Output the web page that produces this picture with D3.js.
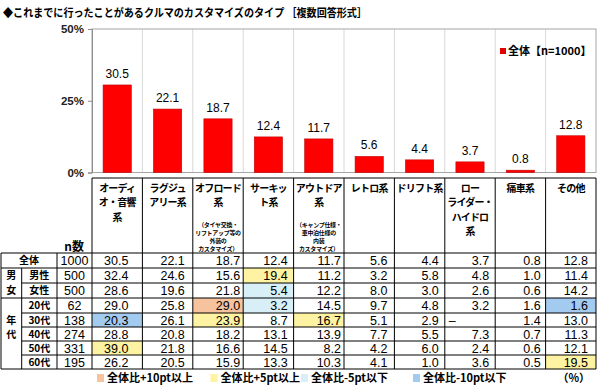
<!DOCTYPE html>
<html>
<head>
<meta charset="utf-8">
<script src="https://cdn.jsdelivr.net/npm/d3@7"></script>
<style>
  body { margin: 0; background: #fff; }
  svg { display: block; }
</style>
</head>
<body>
<div id="chart"></div>
<script>
// Data
const headerLines = [
  ["オーディ", "オ・音響", "系"],
  ["ラグジュ", "アリー系"],
  ["オフロード", "系"],
  ["サーキッ", "ト系"],
  ["アウトドア", "系"],
  ["レトロ系"],
  ["ドリフト系"],
  ["ロー", "ライダー・", "ハイドロ", "系"],
  ["痛車系"],
  ["その他"]
];
const headerNotes = [
  null, null,
  ["（タイヤ交換・", "リフトアップ等の", "外装の", "カスタマイズ）"],
  null,
  ["（キャンプ仕様・", "車中泊仕様の", "内装", "カスタマイズ）"],
  null, null, null, null, null
];
const total = [30.5, 22.1, 18.7, 12.4, 11.7, 5.6, 4.4, 3.7, 0.8, 12.8];
const totalN = 1000;
const rowLabels = ["男性", "女性", "20代", "30代", "40代", "50代", "60代"];
const rowN = [500, 500, 62, 138, 274, 331, 195];
const rowValues = [
  [32.4, 24.6, 15.6, 19.4, 11.2, 3.2, 5.8, 4.8, 1.0, 11.4],
  [28.6, 19.6, 21.8, 5.4, 12.2, 8.0, 3.0, 2.6, 0.6, 14.2],
  [29.0, 25.8, 29.0, 3.2, 14.5, 9.7, 4.8, 3.2, 1.6, 1.6],
  [20.3, 26.1, 23.9, 8.7, 16.7, 5.1, 2.9, null, 1.4, 13.0],
  [28.8, 20.8, 18.2, 13.1, 13.9, 7.7, 5.5, 7.3, 0.7, 11.3],
  [39.0, 21.8, 16.6, 14.5, 8.2, 4.2, 6.0, 2.4, 0.6, 12.1],
  [26.2, 20.5, 15.9, 13.3, 10.3, 4.1, 1.0, 3.6, 0.5, 19.5]
];
const yTicks = [0, 25, 50];
const legendItems = ["全体比+10pt以上", "全体比+5pt以上", "全体比-5pt以下", "全体比-10pt以下"];
const legendColors = ["#f7c39f", "#fdf3a2", "#d9eff7", "#a3caef"];

const width = 600, height = 389;
const jp = "'Noto Sans CJK JP', sans-serif";
const num = "'Liberation Sans', Arial, sans-serif";

const svg = d3.select("#chart").append("svg")
  .attr("width", width)
  .attr("height", height);

// Title
svg.append("text")
  .attr("x", 3).attr("y", 17)
  .attr("font-family", jp).attr("font-weight", 700).attr("font-size", 11.5)
  .attr("textLength", 364).attr("lengthAdjust", "spacingAndGlyphs")
  .text("◆これまでに行ったことがあるクルマのカスタマイズのタイプ ［複数回答形式］");

// Scales
const idx = d3.range(total.length);
const x = d3.scaleBand().domain(idx).range([92, 596]);
const y = d3.scaleLinear().domain([0, 50]).range([172.5, 29]);
const barW = x.bandwidth() * 0.56;

// Plot frame and grid
svg.append("g")
  .selectAll("line")
  .data(idx.slice(1))
  .join("line")
    .attr("x1", d => x(d)).attr("x2", d => x(d))
    .attr("y1", y(50)).attr("y2", y(0))
    .attr("stroke", "#d8d8d8");

svg.append("rect")
  .attr("x", 92).attr("y", y(50))
  .attr("width", 596 - 92).attr("height", y(0) - y(50))
  .attr("fill", "none").attr("stroke", "#a6a6a6");

// Y axis
const yAxis = svg.append("g")
  .attr("transform", "translate(92,0)")
  .call(d3.axisLeft(y).tickValues(yTicks).tickSize(4).tickFormat(d => d + "%"));
yAxis.select(".domain").attr("stroke", "#8c8c8c");
yAxis.selectAll(".tick line").attr("stroke", "#8c8c8c");
yAxis.selectAll(".tick text")
  .attr("x", -8)
  .attr("font-family", num).attr("font-weight", 700).attr("font-size", 11.5)
  .attr("fill", "#222");

// Bars
svg.append("g")
  .selectAll("rect")
  .data(total)
  .join("rect")
    .attr("x", (d, i) => x(i) + (x.bandwidth() - barW) / 2)
    .attr("y", d => y(d))
    .attr("width", barW)
    .attr("height", d => y(0) - y(d))
    .attr("fill", "#ff0000")
    .attr("stroke", "#c00000").attr("stroke-width", 0.6);

svg.append("g")
  .selectAll("text")
  .data(total)
  .join("text")
    .attr("x", (d, i) => x(i) + x.bandwidth() / 2)
    .attr("y", d => y(d) - 7)
    .attr("text-anchor", "middle")
    .attr("font-family", num).attr("font-size", 12)
    .text(d => d.toFixed(1));

// Legend (top right)
svg.append("rect").attr("x", 500).attr("y", 48).attr("width", 6).attr("height", 6).attr("fill", "#e00000");
svg.append("text")
  .attr("x", 508).attr("y", 55)
  .attr("font-family", jp).attr("font-weight", 700).attr("font-size", 11)
  .text(`全体【n=${totalN}】`);

// ---- Table ----
const tTop = 178, hBottom = 253;
const rowH = [15, 15, 15, 15, 14, 14, 14, 14];
const rowY = [hBottom];
rowH.forEach((h, i) => rowY.push(rowY[i] + h));
const tBottom = rowY[rowY.length - 1];
const colG = 1, colL = 21.7, colN = 57, colD = 92, colR = 596;
const padRight = [14, 8, 3, 6, 3, 7, 6, 6, 5, 8];

function cellColor(v, t) {
  if (v == null) return null;
  const d = Math.round((v - t) * 10) / 10;
  if (d >= 10) return legendColors[0];
  if (d >= 5) return legendColors[1];
  if (d <= -10) return legendColors[3];
  if (d <= -5) return legendColors[2];
  return null;
}

const table = svg.append("g");
const allRows = [total].concat(rowValues);

// highlighted cells
allRows.forEach((vals, r) => {
  vals.forEach((v, c) => {
    const col = cellColor(v, total[c]);
    if (r > 0 && col) {
      table.append("rect")
        .attr("x", x(c)).attr("y", rowY[r])
        .attr("width", x.bandwidth()).attr("height", rowH[r])
        .attr("fill", col);
    }
  });
});

// header column labels
headerLines.forEach((lines, c) => {
  const cx = x(c) + x.bandwidth() / 2;
  lines.forEach((s, k) => {
    table.append("text")
      .attr("x", cx).attr("y", 188.5 + k * 14.2)
      .attr("dy", "0.36em")
      .attr("text-anchor", "middle")
      .attr("font-family", jp).attr("font-weight", 700).attr("font-size", 10)
      .attr("letter-spacing", -0.8)
      .text(s);
  });
  if (headerNotes[c]) {
    headerNotes[c].forEach((s, k) => {
      table.append("text")
        .attr("x", cx).attr("y", 225 + k * 8)
        .attr("dy", "0.36em")
        .attr("text-anchor", "middle")
        .attr("font-family", jp).attr("font-weight", 700).attr("font-size", 6)
        .attr("letter-spacing", -0.3)
        .text(s);
    });
  }
});
table.append("text")
  .attr("x", 84).attr("y", 251)
  .attr("text-anchor", "end")
  .attr("font-family", jp).attr("font-weight", 700).attr("font-size", 12)
  .text("n数");

// values
const rowCY = r => rowY[r] + rowH[r] / 2;
allRows.forEach((vals, r) => {
  vals.forEach((v, c) => {
    table.append("text")
      .attr("x", v == null ? x(c) + 4 : x(c) + x.bandwidth() - padRight[c])
      .attr("y", rowCY(r))
      .attr("dy", "0.36em")
      .attr("text-anchor", v == null ? "start" : "end")
      .attr("font-family", num).attr("font-size", 12.5)
      .text(v == null ? "–" : v.toFixed(1));
  });
});

// n column
[totalN].concat(rowN).forEach((n, r) => {
  table.append("text")
    .attr("x", (colN + colD) / 2).attr("y", rowCY(r))
    .attr("dy", "0.36em")
    .attr("text-anchor", "middle")
    .attr("font-family", num).attr("font-size", 12.5)
    .text(n);
});

// row labels
const jpLabel = (tx, ty, s) => table.append("text")
  .attr("x", tx).attr("y", ty).attr("dy", "0.36em")
  .attr("text-anchor", "middle")
  .attr("font-family", jp).attr("font-weight", 700).attr("font-size", 10)
  .text(s);
jpLabel((colG + colN) / 2, rowCY(0), "全体");
rowLabels.forEach((s, i) => jpLabel((colL + colN) / 2, rowCY(i + 1), s));
jpLabel((colG + colL) / 2, rowCY(1), "男");
jpLabel((colG + colL) / 2, rowCY(2), "女");
jpLabel((colG + colL) / 2, rowCY(4), "年");
jpLabel((colG + colL) / 2, rowCY(4) + 14.6, "代");

// grid lines of the table
const line = (x1, y1, x2, y2) => table.append("line")
  .attr("x1", x1).attr("y1", y1).attr("x2", x2).attr("y2", y2)
  .attr("stroke", "#000").attr("stroke-width", 1);

line(colD, tTop, colR, tTop);
line(colG, hBottom, colR, hBottom);
rowY.slice(1).forEach((yy, i) => {
  const full = (i === 0 || i === 2 || i === rowY.length - 2);
  line(full ? colG : colL, yy, colR, yy);
});
line(colG, hBottom, colG, tBottom);
line(colL, rowY[1], colL, tBottom);
line(colN, hBottom, colN, tBottom);
idx.forEach(c => line(x(c), tTop, x(c), tBottom));
line(colR, tTop, colR, tBottom);

// bottom legend
const legX = [97, 210.5, 301, 413];
legendItems.forEach((s, i) => {
  svg.append("rect")
    .attr("x", legX[i]).attr("y", 374).attr("width", 7).attr("height", 8)
    .attr("fill", legendColors[i]);
  svg.append("text")
    .attr("x", legX[i] + 10).attr("y", 382)
    .attr("font-family", jp).attr("font-weight", 700).attr("font-size", 11)
    .text(s);
});
svg.append("text")
  .attr("x", 590).attr("y", 382)
  .attr("text-anchor", "end")
  .attr("font-family", jp).attr("font-weight", 700).attr("font-size", 11)
  .text("（%）");
</script>
</body>
</html>
